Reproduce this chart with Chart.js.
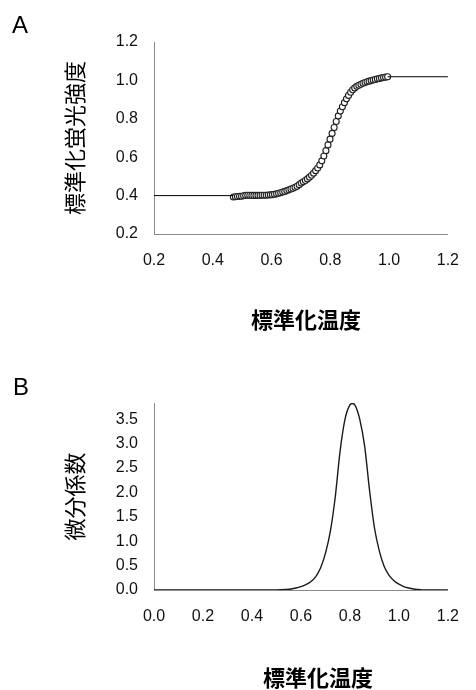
<!DOCTYPE html>
<html>
<head>
<meta charset="utf-8">
<script src="https://cdn.jsdelivr.net/npm/chart.js@4.4.1/dist/chart.umd.min.js"></script>
<style>
  body { margin: 0; background: #fff; width: 476px; height: 690px; overflow: hidden; position: relative; }
  canvas { position: absolute; left: 0; }
  #chartA { top: 0; }
  #chartB { top: 345px; }
</style>
</head>
<body>
<canvas id="chartA" width="476" height="345"></canvas>
<canvas id="chartB" width="476" height="345"></canvas>
<script>
// --- panel A: measured melt points (normalized temperature / normalized fluorescence)
const meltTemp = [0.470,0.477,0.484,0.491,0.498,0.505,0.512,0.519,0.526,0.533,
  0.540,0.547,0.554,0.561,0.568,0.575,0.582,0.589,0.596,0.603,
  0.610,0.617,0.624,0.631,0.638,0.645,0.652,0.659,0.666,0.673,
  0.680,0.687,0.694,0.701,0.708,0.715,0.722,0.729,0.736,0.743,
  0.750,0.757,0.764,0.771,0.778,0.785,0.792,0.799,0.806,0.813,
  0.820,0.827,0.834,0.841,0.848,0.855,0.862,0.869,0.876,0.883,
  0.890,0.897,0.904,0.911,0.918,0.925,0.932,0.939,0.946,0.953,
  0.960,0.967,0.974,0.981,0.988,0.995];
const meltFluor = [0.393,0.394,0.395,0.396,0.397,0.399,0.401,0.402,0.402,0.401,
  0.401,0.401,0.401,0.401,0.402,0.402,0.402,0.403,0.404,0.405,
  0.407,0.409,0.412,0.415,0.419,0.422,0.426,0.430,0.434,0.438,
  0.443,0.449,0.457,0.465,0.472,0.479,0.487,0.496,0.506,0.517,
  0.530,0.544,0.560,0.581,0.606,0.634,0.664,0.694,0.724,0.755,
  0.786,0.815,0.840,0.863,0.884,0.904,0.922,0.938,0.951,0.961,
  0.969,0.975,0.980,0.985,0.989,0.993,0.996,0.999,1.002,1.005,
  1.008,1.010,1.013,1.015,1.017,1.019];

// baselines (lower / upper plateau lines)
const lowLineX = [0.2, 0.47];
const lowLineY = [0.40, 0.40];
const highLineX = [0.995, 1.2];
const highLineY = [1.019, 1.019];

// --- panel B: derivative curve
const derivX = [0.00,0.10,0.20,0.30,0.40,0.50,0.54,0.56,0.58,0.60,
  0.62,0.64,0.66,0.68,0.70,0.72,0.74,0.76,0.78,0.80,
  0.81,0.82,0.84,0.86,0.88,0.90,0.92,0.94,0.96,0.98,
  1.00,1.02,1.04,1.06,1.08,1.10,1.20];
const derivY = [0,0,0,0,0,0,0.01,0.02,0.04,0.07,
  0.11,0.17,0.27,0.45,0.75,1.20,1.90,2.85,3.50,3.79,
  3.82,3.79,3.50,2.95,2.05,1.28,0.80,0.48,0.30,0.19,
  0.12,0.07,0.04,0.02,0.01,0,0];

const xTicksA = [0.2, 0.4, 0.6, 0.8, 1.0, 1.2];
const yTicksA = [0.2, 0.4, 0.6, 0.8, 1.0, 1.2];
const xTicksB = [0.0, 0.2, 0.4, 0.6, 0.8, 1.0, 1.2];
const yTicksB = [0.0, 0.5, 1.0, 1.5, 2.0, 2.5, 3.0, 3.5];

const latin = '"Liberation Sans", Arial, sans-serif';
const cjk = '"Noto Sans CJK JP", sans-serif';

const toPoints = (xs, ys) => xs.map((x, i) => ({ x: x, y: ys[i] }));

// panel letter + x axis title
const panelText = {
  id: 'panelText',
  afterDraw(chart, args, opts) {
    const ctx = chart.ctx;
    const area = chart.chartArea;
    ctx.save();
    ctx.fillStyle = '#000';
    ctx.font = '24px ' + latin;
    ctx.textAlign = 'left';
    ctx.textBaseline = 'alphabetic';
    ctx.fillText(opts.letter, opts.letterX, opts.letterY);
    ctx.font = 'bold 22px ' + cjk;
    ctx.textAlign = 'center';
    ctx.textBaseline = 'middle';
    ctx.fillText(opts.xTitle, (area.left + area.right) / 2 + opts.shift, opts.titleY);
    ctx.restore();
  }
};

function axisX(min, max, list, h) {
  return {
    type: 'linear', min: min, max: max,
    afterBuildTicks: s => { s.ticks = list.map(v => ({ value: v })); },
    afterFit: s => { s.height = h; },
    ticks: { padding: 17, color: '#111', maxRotation: 0, autoSkip: false,
      font: { size: 16, family: latin }, callback: v => v.toFixed(1) },
    grid: { display: false, drawTicks: false },
    border: { color: '#8a8a8a', width: 1 }
  };
}

function axisY(min, max, list, title, titleGap) {
  return {
    type: 'linear', min: min, max: max,
    afterBuildTicks: s => { s.ticks = list.map(v => ({ value: v })); },
    afterFit: s => { s.width = 154; },
    ticks: { padding: 16, color: '#111', font: { size: 16, family: latin },
      callback: v => v.toFixed(1) },
    grid: { display: false, drawTicks: false },
    border: { color: '#8a8a8a', width: 1 },
    title: { display: true, text: title, color: '#000',
      font: { size: 22, family: cjk }, padding: { top: titleGap, bottom: 0 } }
  };
}

new Chart(document.getElementById('chartA'), {
  type: 'scatter',
  data: {
    datasets: [
      { data: toPoints(lowLineX, lowLineY), showLine: true, borderColor: '#000',
        borderWidth: 1, pointRadius: 0 },
      { data: toPoints(highLineX, highLineY), showLine: true, borderColor: '#000',
        borderWidth: 1, pointRadius: 0 },
      { data: toPoints(meltTemp, meltFluor), showLine: false, pointRadius: 3,
        pointBorderWidth: 1.1, pointBorderColor: '#222', pointBackgroundColor: '#fff' }
    ]
  },
  options: {
    responsive: false, animation: false,
    layout: { padding: { top: 42, right: 13, left: 0, bottom: 0 } },
    plugins: { legend: { display: false }, tooltip: { enabled: false },
      panelText: { letter: 'A', letterX: 12, letterY: 33, xTitle: '標準化温度', shift: 5, titleY: 320 } },
    scales: {
      x: axisX(0.2, 1.2, xTicksA, 111),
      y: axisY(0.2, 1.2, yTicksA, '標準化蛍光強度', 61)
    }
  },
  plugins: [panelText]
});

new Chart(document.getElementById('chartB'), {
  type: 'line',
  data: {
    datasets: [
      { data: toPoints(derivX, derivY), borderColor: '#1a1a1a', borderWidth: 1.4,
        pointRadius: 0, cubicInterpolationMode: 'monotone', fill: false }
    ]
  },
  options: {
    responsive: false, animation: false,
    layout: { padding: { top: 58, right: 24, left: 0, bottom: 0 } },
    plugins: { legend: { display: false }, tooltip: { enabled: false },
      panelText: { letter: 'B', letterX: 13, letterY: 50, xTitle: '標準化温度', shift: 17, titleY: 333 } },
    scales: {
      x: axisX(0, 1.2, xTicksB, 100),
      y: axisY(0, 3.83, yTicksB, '微分係数', 61)
    }
  },
  plugins: [panelText]
});
</script>
</body>
</html>
